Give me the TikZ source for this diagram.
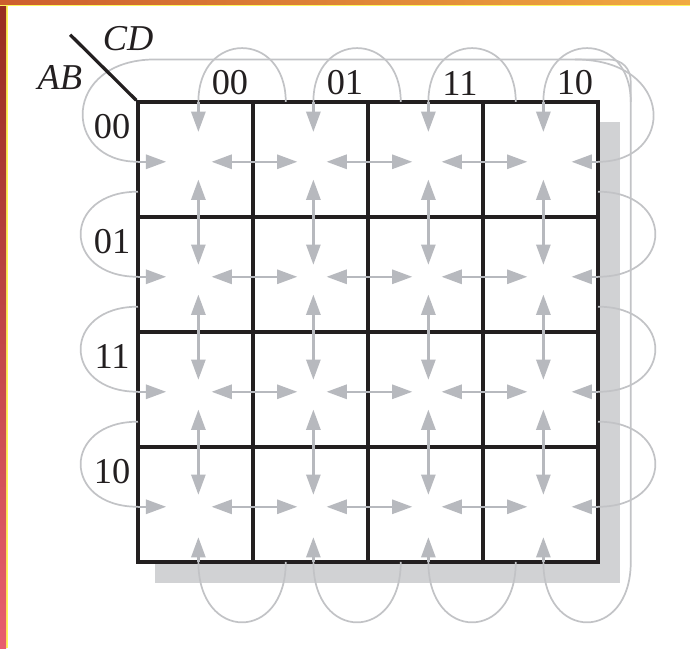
\documentclass[tikz,border=0pt]{standalone}
\usepackage{fontspec}
\setmainfont{Liberation Serif}
\usepackage{tikz}
\usetikzlibrary{arrows.meta}

\definecolor{arrowgray}{RGB}{183,185,190}
\definecolor{loopgray}{RGB}{194,195,198}
\definecolor{shadowgray}{RGB}{209,210,212}
\definecolor{gridblack}{RGB}{35,31,32}
\definecolor{rimyellow}{RGB}{255,246,90}
\definecolor{rimdark}{RGB}{150,45,30}
\definecolor{rimpink}{RGB}{232,95,110}
\definecolor{rimorange}{RGB}{205,95,45}
\definecolor{rimgold}{RGB}{240,170,65}

\begin{document}
\begin{tikzpicture}[
    >={Triangle[length=10pt,width=7pt]},
    cell/.style={draw=gridblack, line width=1.7pt, fill=white, minimum size=2cm, inner sep=0pt},
    lbl/.style={inner sep=1pt, text=gridblack, font=\fontsize{18}{20}\selectfont},
    garrow/.style={arrowgray, line width=1.2pt},
    gloop/.style={loopgray, line width=0.85pt}
  ]
  \useasboundingbox (-2.4,-1.496) rectangle (9.6,9.774);

  % screenshot rim
  \fill[rimyellow] (-2.4,-1.496) rectangle (-2.26,9.774);
  \shade[top color=rimdark, bottom color=rimpink] (-2.4,-1.496) rectangle (-2.295,9.774);
  \fill[rimyellow] (-2.4,9.67) rectangle (9.6,9.774);
  \shade[left color=rimorange, right color=rimgold] (-2.4,9.704) rectangle (9.6,9.774);

  % shadow and map
  \fill[shadowgray] (0.3,-0.37) rectangle (8.38,7.66);

  \foreach \i in {0,1,2,3}
    \foreach \j in {0,1,2,3}
      \node[cell] (n\i\j) at ({1+2*\i}, {1+2*\j}) {};

  \foreach \i in {0,1,2,3} {
    \coordinate (t\i) at ({2*\i+1.05}, 8);
    \coordinate (b\i) at ({2*\i+1.05}, 0);
    \coordinate (l\i) at (0, {2*\i+0.96});
    \coordinate (r\i) at (8, {2*\i+0.96});
    \foreach \j in {0,1,2,3}
      \coordinate (s\i\j) at ({2*\i+1.05}, {2*\j+0.96});
  }

  % arrows between neighbours
  \foreach \i/\ii in {0/1,1/2,2/3}
    \foreach \j in {0,1,2,3} {
      \draw[garrow, <->, shorten <=0.23cm, shorten >=0.28cm] (s\i\j) -- (s\ii\j);
      \draw[garrow, <->, shorten <=0.21cm, shorten >=0.31cm] (s\j\i) -- (s\j\ii);
    }

  % arrows from the edges
  \foreach \i in {0,1,2,3} {
    \draw[garrow, ->, shorten >=0.52cm] (t\i) -- (s\i3);
    \draw[garrow, ->, shorten >=0.53cm] (b\i) -- (s\i0);
    \draw[garrow, ->, shorten >=0.56cm] (l\i) -- (s0\i);
    \draw[garrow, ->, shorten >=0.49cm] (r\i) -- (s3\i);
  }

  % wrap-around loops
  \foreach \i in {0,1,2,3} {
    \draw[gloop] (t\i) .. controls +(0,1.25) and +(0,1.25) .. ({2*\i+2.57},8);
    \draw[gloop] (b\i) .. controls +(0,-1.4) and +(0,-1.4) .. ({2*\i+2.57},0);
  }
  \foreach \j in {0,1,2} {
    \draw[gloop] (l\j) .. controls +(-1.33,0) and +(-1.33,0) .. (0,{2*\j+2.44});
    \draw[gloop] (r\j) .. controls +(1.33,0) and +(1.33,0) .. (8,{2*\j+2.44});
  }
  \draw[gloop] (l3) .. controls +(-1.33,0) and +(-1.63,0) .. (0.3,8.74)
    -- (8.17,8.74) .. controls +(0.25,0) and +(0,0.25) .. (8.57,8.34) -- (8.57,0);
  \draw[gloop] (r3) .. controls +(1.35,0) and +(1.75,0) .. (7.6,8.74);

  % labels
  \draw[gridblack, line width=1.6pt] (-1.18,9.17) coordinate (slash) -- (n03.north west);
  \node[lbl] (cd) at (-0.17,9.11) {\textit{CD}};
  \node[lbl] (ab) at (-1.36,8.43) {\textit{AB}};
  \foreach \i/\lab in {0/00,1/01,2/11,3/10}
    \node[lbl] (col\i) at ({2*\i+1.6}, 8.33) {\lab};
  \foreach \j/\lab in {3/00,2/01,1/11,0/10}
    \node[lbl] (row\j) at (-0.45, {2*\j+1.57}) {\lab};
\end{tikzpicture}
\end{document}
